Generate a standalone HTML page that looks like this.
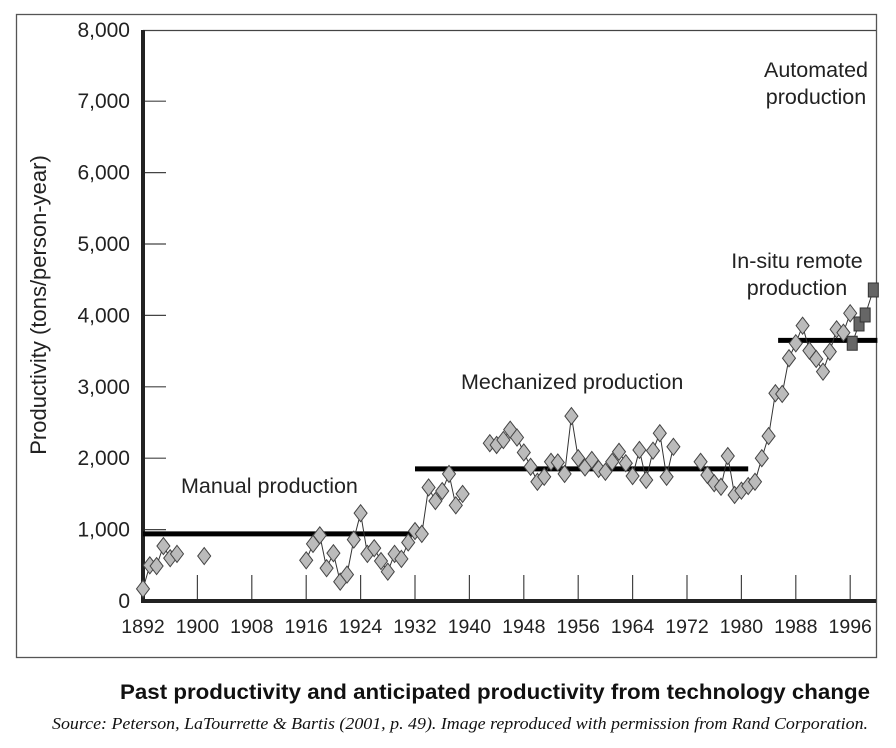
<!DOCTYPE html>
<html><head><meta charset="utf-8">
<style>
body{margin:0;background:#fff;width:896px;height:743px;overflow:hidden;font-family:"Liberation Sans",sans-serif;}
svg text{font-family:"Liberation Sans",sans-serif;}
</style></head>
<body>
<svg id="chart" width="896" height="743" viewBox="0 0 896 743" xmlns="http://www.w3.org/2000/svg">
<rect x="16.5" y="14.5" width="860" height="643" fill="none" stroke="#555" stroke-width="1.3"/>
<g id="grid"></g>
<g id="marks"></g>
<text transform="translate(46,305) rotate(-90)" text-anchor="middle" font-size="22" fill="#222">Productivity (tons/person-year)</text>
<text x="181" y="493" font-size="21.5" fill="#222">Manual production</text>
<text x="461" y="389" font-size="21.5" fill="#222">Mechanized production</text>
<text text-anchor="middle" font-size="21.5" fill="#222"><tspan x="797" y="268">In-situ remote</tspan><tspan x="797" y="295">production</tspan></text>
<text text-anchor="middle" font-size="21.5" fill="#222"><tspan x="816" y="77">Automated</tspan><tspan x="816" y="104">production</tspan></text>
<text x="870" y="699" text-anchor="end" font-size="21.5" font-weight="bold" fill="#111" textLength="750" lengthAdjust="spacingAndGlyphs">Past productivity and anticipated productivity from technology change</text>
<text x="868" y="729" text-anchor="end" font-size="17" font-style="italic" fill="#111" style="font-family:'Liberation Serif',serif" textLength="816" lengthAdjust="spacingAndGlyphs">Source: Peterson, LaTourrette &amp; Bartis (2001, p. 49). Image reproduced with permission from Rand Corporation.</text>
</svg>
<script>
const yearsManual=[1892,1893,1894,1895,1896,1897];
const valsManual=[170,500,490,770,600,660];
const yearsIsolated=[1901];
const valsIsolated=[630];
const yearsMain=[1916,1917,1918,1919,1920,1921,1922,1923,1924,1925,1926,1927,1928,1929,1930,1931,1932,1933,1934,1935,1936,1937,1938,1939];
const valsMain=[570,800,920,460,670,270,370,860,1230,660,740,560,410,660,590,820,980,940,1590,1400,1540,1780,1340,1500];
const yearsMech=[1943,1944,1945,1946,1947,1948,1949,1950,1951,1952,1953,1954,1955,1956,1957,1958,1959,1960,1961,1962,1963,1964,1965,1966,1967,1968,1969,1970];
const valsMech=[2210,2185,2255,2400,2290,2080,1880,1670,1740,1950,1940,1780,2590,2000,1870,1975,1850,1810,1950,2090,1930,1750,2115,1695,2105,2350,1740,2160];
const yearsLate=[1974,1975,1976,1977,1978,1979,1980,1981,1982,1983,1984,1985,1986,1987,1988,1989,1990,1991,1992,1993,1994,1995,1996];
const valsLate=[1950,1765,1650,1600,2030,1485,1545,1610,1670,2000,2310,2910,2900,3400,3610,3856,3506,3390,3212,3492,3805,3758,4030];
const yearsSquares=[1996.3,1997.3,1998.2,1999.4];
const valsSquares=[3610,3880,4006,4356];
const avgStart=[1892,1932,1985.4];
const avgEnd=[1932,1981,2000];
const avgVals=[940,1850,3650];
const yTicks=[0,1000,2000,3000,4000,5000,6000,7000,8000];
const yTickLabels=["0","1,000","2,000","3,000","4,000","5,000","6,000","7,000","8,000"];
const xTicks=[1892,1900,1908,1916,1924,1932,1940,1948,1956,1964,1972,1980,1988,1996];

const NS="http://www.w3.org/2000/svg";
const X=yr=>143+(yr-1892)*6.8;
const Y=v=>601-v*0.0714;
const grid=document.getElementById('grid'), marks=document.getElementById('marks');
function mk(tag,attrs,parent){const e=document.createElementNS(NS,tag);for(const k in attrs)e.setAttribute(k,attrs[k]);parent.appendChild(e);return e;}

let l=mk('line',{x1:143,y1:30.5,x2:876,y2:30.5,stroke:'#444','stroke-width':1.3},grid);


yTicks.forEach((v,i)=>{
  if(v>0&&v<8000){const t=mk('line',{x1:143,y1:Y(v),x2:166,y2:Y(v),stroke:'#444','stroke-width':1.2},grid);
  
  }
  const tx=mk('text',{x:130,y:Y(v)+7,'text-anchor':'end','font-size':21,fill:'#222'},grid);
  tx.textContent=yTickLabels[i];
  
  
});
xTicks.forEach(yr=>{
  if(yr>1892){const t=mk('line',{x1:X(yr),y1:575,x2:X(yr),y2:601,stroke:'#444','stroke-width':1.2},grid);
  
  }
  const tx=mk('text',{x:X(yr),y:633,'text-anchor':'middle','font-size':19.5,fill:'#222'},grid);
  tx.textContent=String(yr);
  
  
});
l=mk('line',{x1:143,y1:30,x2:143,y2:603,stroke:'#222','stroke-width':4},grid);


l=mk('line',{x1:141,y1:601,x2:876,y2:601,stroke:'#222','stroke-width':4},grid);



avgVals.forEach((v,i)=>{
  const a=mk('line',{x1:X(avgStart[i]),y1:Y(v),x2:X(avgEnd[i]),y2:Y(v),stroke:'#000','stroke-width':5},marks);
  
  
});

function series(ys,vs,name,connect){
  if(connect&&ys.length>1){
    const p=mk('polyline',{points:ys.map((y,i)=>X(y)+','+Y(vs[i])).join(' '),fill:'none',stroke:'#333','stroke-width':1},marks);
    
    
  }
  ys.forEach((y,i)=>{
    const cx=X(y),cy=Y(vs[i]);
    const d=mk('polygon',{points:`${cx},${cy-8.5} ${cx+6.5},${cy} ${cx},${cy+8.5} ${cx-6.5},${cy}`,fill:'#bbb',stroke:'#444','stroke-width':1},marks);
    
    
  });
}
series(yearsManual,valsManual,'early',true);
series(yearsIsolated,valsIsolated,'isolated',false);
series(yearsMain,valsMain,'manual',true);
series(yearsMech,valsMech,'mechanized',true);
series(yearsLate,valsLate,'late',true);

const sp=mk('polyline',{points:yearsSquares.map((y,i)=>X(y)+','+Y(valsSquares[i])).join(' '),fill:'none',stroke:'#333','stroke-width':1},marks);


yearsSquares.forEach((y,i)=>{
  const s=mk('rect',{x:X(y)-5,y:Y(valsSquares[i])-7,width:10,height:14,fill:'#666',stroke:'#333','stroke-width':1},marks);
  
  
});
</script>
</body></html>
